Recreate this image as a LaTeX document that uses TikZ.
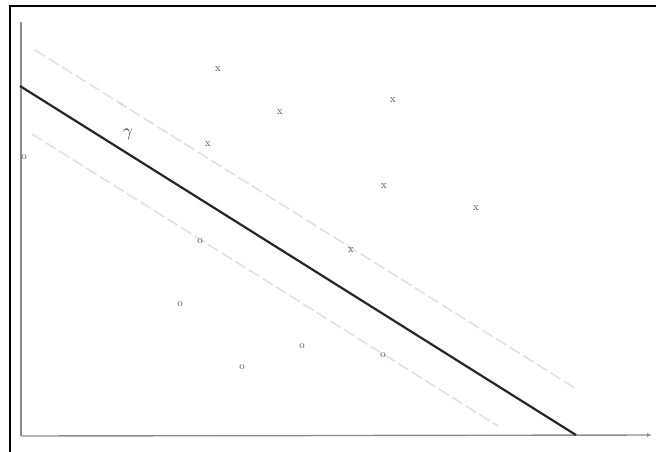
\documentclass[tikz,border=0pt]{standalone}
\usetikzlibrary{arrows.meta}
\begin{document}
\begin{tikzpicture}[x=1pt,y=-1pt,
  lbl/.style={text=black!75,font=\fontsize{11}{13}\selectfont,inner sep=0pt},
  axisline/.style={draw=black!45,line width=1.4pt},
  marginline/.style={draw=black!12,line width=1.6pt,dash pattern=on 12pt off 4pt},
  mainline/.style={draw=black!85,line width=2.2pt}]
\useasboundingbox (0,0) rectangle (656,451);
% frame
\draw[line width=2.5pt] (10,470) -- (10,6) -- (670,6);
% axes
\coordinate (oy) at (21,436);
\coordinate (ty) at (21,22);
\coordinate (tx) at (652,435);
\draw[axisline] (ty) -- (oy);
\draw[axisline,-{Latex[length=5pt,width=4pt]}] (oy) -- (tx);
% margin lines
\coordinate (u1) at (35,50);
\coordinate (u2) at (575,388);
\coordinate (l1) at (32,134);
\coordinate (l2) at (498,426);
\draw[marginline] (u1) -- (u2);
\draw[marginline] (l1) -- (l2);
% separating line
\coordinate (m1) at (20,86);
\coordinate (m2) at (576,435);
\draw[mainline] (m1) -- (m2);
% gamma labels
\node[text=black!18,font=\large,inner sep=0pt] (g1) at (121,106) {$\gamma$};
\node[text=black!85,font=\LARGE,inner sep=0pt] (g2) at (128,134) {$\gamma$};
% x points
\node[lbl] (x1) at (218,69) {x};
\node[lbl] (x2) at (280,112) {x};
\node[lbl] (x3) at (393,100) {x};
\node[lbl] (x4) at (208,144) {x};
\node[lbl] (x5) at (384,186) {x};
\node[lbl] (x6) at (476,208) {x};
\node[lbl] (x7) at (351,250) {x};
% o points
\node[lbl] (o1) at (24,157) {o};
\node[lbl] (o2) at (200,241) {o};
\node[lbl] (o3) at (180,304) {o};
\node[lbl] (o4) at (242,367) {o};
\node[lbl] (o5) at (302,346) {o};
\node[lbl] (o6) at (383,355) {o};
\end{tikzpicture}
\end{document}
